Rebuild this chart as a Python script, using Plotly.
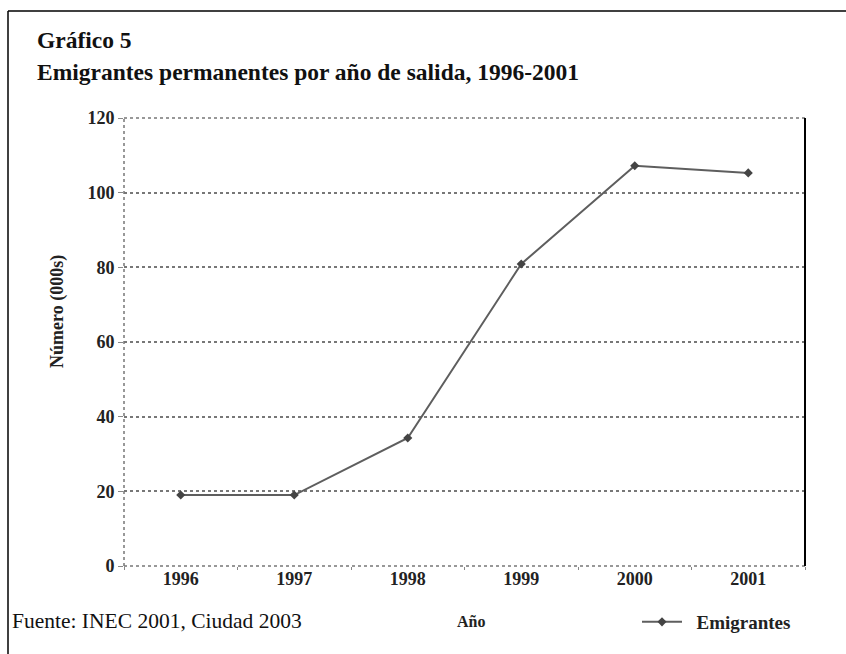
import plotly.graph_objects as go

years = ["1996", "1997", "1998", "1999", "2000", "2001"]
emigrantes = [19, 19, 34.3, 80.9, 107.2, 105.3]
y_ticks = [0, 20, 40, 60, 80, 100, 120]

W, H = 846, 654
L, R, T, B = 124, 805, 118, 566

def px(x):
    return (x - L) / (R - L)

def py(y):
    return (B - y) / (B - T)

serif = "Liberation Serif"

fig = go.Figure()
fig.add_trace(go.Scatter(
    x=years, y=emigrantes, mode="lines+markers", name="&nbsp;&nbsp;<b>Emigrantes</b>",
    line=dict(color="#5e5e5e", width=2),
    marker=dict(symbol="diamond", size=7, color="#444444"),
))

fig.update_layout(
    width=W, height=H,
    margin=dict(l=L, r=W - R, t=T, b=H - B, pad=0),
    paper_bgcolor="white", plot_bgcolor="white",
    font=dict(family=serif, color="#222222"),
    showlegend=True,
    legend=dict(
        x=px(637), y=py(622), xanchor="left", yanchor="middle",
        orientation="h", font=dict(family=serif, size=19, color="#222"),
        bgcolor="rgba(0,0,0,0)", itemwidth=40,
    ),
    xaxis=dict(
        type="category", range=[-0.5, 5.5], showgrid=False, zeroline=False,
        showline=False, ticks="outside", tickson="boundaries", ticklen=3,
        tickcolor="#888", tickwidth=1,
        tickvals=years, ticktext=["<b>%s</b>" % y for y in years],
        tickfont=dict(family=serif, size=18, color="#222"),
    ),
    yaxis=dict(
        range=[0, 120], tickvals=y_ticks, ticktext=["<b>%d</b>" % v for v in y_ticks],
        showgrid=True, griddash="dot",
        gridcolor="#777777", gridwidth=1.5, zeroline=False, showline=False,
        ticks="outside", ticklen=5, tickcolor="#888",
        tickfont=dict(family=serif, size=18, color="#222"),
    ),
)

shapes = [
    dict(type="line", xref="paper", yref="paper", x0=0, x1=0, y0=0, y1=1,
         line=dict(color="#777777", width=1.5, dash="dot")),
    dict(type="line", xref="paper", yref="paper", x0=0, x1=1, y0=1, y1=1,
         line=dict(color="#777777", width=1.5, dash="dot")),
    dict(type="line", xref="paper", yref="paper", x0=0, x1=1, y0=0, y1=0,
         line=dict(color="#777777", width=1.5, dash="dot")),
    dict(type="line", xref="paper", yref="paper", x0=1, x1=1, y0=0, y1=1,
         line=dict(color="black", width=2)),
    dict(type="line", xref="paper", yref="paper", x0=px(8), x1=px(846), y0=py(11), y1=py(11),
         line=dict(color="black", width=1.5)),
    dict(type="line", xref="paper", yref="paper", x0=px(8), x1=px(8), y0=py(11), y1=py(654),
         line=dict(color="black", width=1.5)),
]
fig.update_layout(shapes=shapes)

annotations = [
    dict(text="<b>Gráfico 5</b>", x=px(35), y=py(40), xref="paper", yref="paper",
         xanchor="left", yanchor="middle", showarrow=False,
         font=dict(family=serif, size=23.5, color="#111")),
    dict(text="<b>Emigrantes permanentes por año de salida, 1996-2001</b>", x=px(35), y=py(72),
         xref="paper", yref="paper", xanchor="left", yanchor="middle", showarrow=False,
         font=dict(family=serif, size=23.5, color="#111")),
    dict(text="Fuente: INEC 2001, Ciudad 2003", x=px(10), y=py(621), xref="paper", yref="paper",
         xanchor="left", yanchor="middle", showarrow=False,
         font=dict(family=serif, size=21.5, color="#111")),
    dict(text="<b>Año</b>", x=px(471), y=py(621), xref="paper", yref="paper",
         xanchor="center", yanchor="middle", showarrow=False,
         font=dict(family=serif, size=16, color="#222")),
    dict(text="<b>Número (000s)</b>", x=px(57), y=py(312), xref="paper", yref="paper",
         xanchor="center", yanchor="middle", showarrow=False, textangle=-90,
         font=dict(family=serif, size=18, color="#222")),
]
fig.update_layout(annotations=annotations)

fig.write_html("out.html", config={"displayModeBar": False},
               post_script="document.body.style.margin='0';")
